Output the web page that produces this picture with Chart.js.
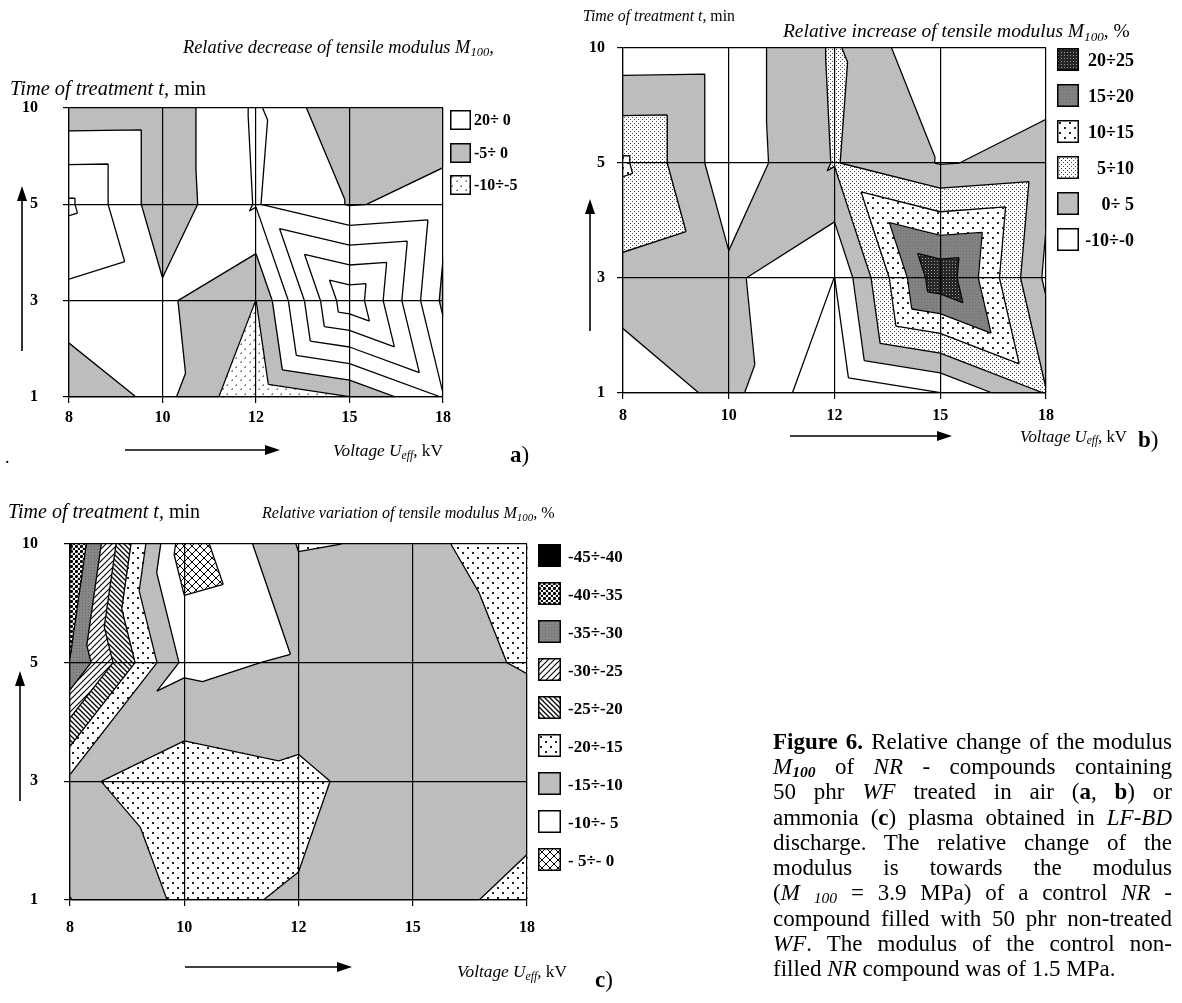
<!DOCTYPE html>
<html><head><meta charset="utf-8"><title>Figure 6</title>
<script src="https://cdn.jsdelivr.net/npm/chart.js@4.4.1/dist/chart.umd.min.js"></script>
<style>
html,body{margin:0;padding:0;background:#fff;}
body{width:1182px;height:1003px;position:relative;overflow:hidden;font-family:"Liberation Serif","Times New Roman",serif;color:#000;}
.t{position:absolute;white-space:nowrap;line-height:1;transform:translateY(-50%);}
sub{font-size:0.68em;vertical-align:-0.25em;line-height:0;}
.lg{position:absolute;font-weight:bold;white-space:pre;line-height:1;transform:translateY(-50%);}
.sw{position:absolute;}
.cap{position:absolute;left:773px;width:399px;font-size:23px;line-height:1;transform:translateY(-50%);text-align:justify;text-align-last:justify;white-space:nowrap;}
.cap.last{text-align:left;text-align-last:left;}
.cv{position:absolute;}
svg.arr{position:absolute;left:0;top:0;}
</style></head>
<body>
<div class="cv" style="left:0px;top:95px;"><canvas id="chartA" width="455" height="335"></canvas></div>
<div class="cv" style="left:570px;top:35px;"><canvas id="chartB" width="490" height="390"></canvas></div>
<div class="cv" style="left:0px;top:530px;"><canvas id="chartC" width="542" height="410"></canvas></div>

<svg class="arr" width="1182" height="1003">
<g stroke="#000" stroke-width="1.6" fill="#000">
<line x1="22" y1="351" x2="22" y2="196"/><polygon points="22,186 17,201 27,201" stroke="none"/>
<line x1="125" y1="450" x2="268" y2="450"/><polygon points="280,450 265,445 265,455" stroke="none"/>
<line x1="590" y1="331" x2="590" y2="210"/><polygon points="590,199 585,214 595,214" stroke="none"/>
<line x1="790" y1="436" x2="940" y2="436"/><polygon points="952,436 937,431 937,441" stroke="none"/>
<line x1="20" y1="801" x2="20" y2="682"/><polygon points="20,671 15,686 25,686" stroke="none"/>
<line x1="185" y1="967" x2="340" y2="967"/><polygon points="352,967 337,962 337,972" stroke="none"/>
</g></svg>

<!-- panel a texts -->
<div class="t fit" data-w="311" style="left:183px;top:47px;font-size:18px;font-style:italic">Relative decrease of tensile modulus M<sub>100</sub>,</div>
<div class="t fit" data-w="196" style="left:10px;top:88px;font-size:20px"><i>Time of treatment t,</i> min</div>
<div class="t fit" data-w="110" style="left:333px;top:451px;font-size:15px"><i>Voltage U<sub>eff</sub>,</i> kV</div>
<div class="t" style="left:510px;top:454px;font-size:23px"><b>a</b>)</div>
<div class="t" style="left:5px;top:457px;font-size:18px">.</div>

<!-- panel b texts -->
<div class="t fit" data-w="152" style="left:583px;top:16px;font-size:16px"><i>Time of treatment t,</i> min</div>
<div class="t fit" data-w="347" style="left:783px;top:31px;font-size:19px"><i>Relative increase of tensile modulus M<sub>100</sub>,</i> %</div>
<div class="t fit" data-w="107" style="left:1020px;top:437px;font-size:15px"><i>Voltage U<sub>eff</sub>,</i> kV</div>
<div class="t" style="left:1138px;top:439px;font-size:23px"><b>b</b>)</div>

<!-- panel c texts -->
<div class="t fit" data-w="192" style="left:8px;top:511px;font-size:19px"><i>Time of treatment t,</i> min</div>
<div class="t fit" data-w="293" style="left:262px;top:513px;font-size:17px"><i>Relative variation of tensile modulus M<sub>100</sub>,</i> %</div>
<div class="t fit" data-w="110" style="left:457px;top:972px;font-size:15px"><i>Voltage U<sub>eff</sub>,</i> kV</div>
<div class="t" style="left:595px;top:979px;font-size:23px"><b>c</b>)</div>

<!-- caption -->
<div class="cap" style="top:741px"><b>Figure 6.</b> Relative change of the modulus</div>
<div class="cap" style="top:766px"><i>M<sub><b>100</b></sub></i> of <i>NR</i> - compounds containing</div>
<div class="cap" style="top:791px">50 phr <i>WF</i> treated in air (<b>a</b>, <b>b</b>) or</div>
<div class="cap" style="top:817px">ammonia (<b>c</b>) plasma obtained in <i>LF-BD</i></div>
<div class="cap" style="top:842px">discharge. The relative change of the</div>
<div class="cap" style="top:867px">modulus is towards the modulus</div>
<div class="cap" style="top:892px">(<i>M <sub>100</sub></i> = 3.9 MPa) of a control <i>NR</i> -</div>
<div class="cap" style="top:918px">compound filled with 50 phr non-treated</div>
<div class="cap" style="top:943px"><i>WF</i>. The modulus of the control non-</div>
<div class="cap last" style="top:968px">filled <i>NR</i> compound was of 1.5 MPa.</div>

<script>
// ================= DATA =================
const voltageTicks = ['8', '10', '12', '15', '18'];   // U_eff, kV (equally spaced categories)
const timeTicks = ['1', '3', '5', '10'];              // t, min (equally spaced categories)

// Air plasma: relative change of M100, %, one array per treatment time (x = 8..18 kV)
// (panels a and b show the same measured surface with different band styles)
const airT1  = [-4.2, 1.65, -9.4, -5.1, 5.25];
const airT3  = [3.3, 1.0, -5.05, 24.0, -1.0];
const airT5  = [10.9, -3.2, 5.3, -0.3, 1.35];
const airT10 = [-3.4, -3.2, 5.75, -4.9, -2.2];

// Ammonia plasma: relative variation of M100, %
const nh3T1  = [-9.9, -15.9, -14.6, -12.5, -16.8];
const nh3T3  = [-13.8, -18.2, -16.3, -11.6, -12.1];
const nh3T5  = [-34.8, -8.8, -10.6, -13.6, -15.3];
const nh3T10 = [-40.5, -2.1, -15.3, -14.5, -16.0];

// contour levels and band styles
const levelsA = [-10, -5, 0, 5, 10, 15, 20, 25];
const bandsA = ['aSpeck', 'gray', 'white', 'white', 'white', 'white', 'white'];
const legendTextA = ['20÷ 0', '-5÷ 0', '-10÷-5'];
const legendFillA = ['white', 'gray', 'aSpeck'];

const levelsB = [-10, -5, 0, 5, 10, 15, 20, 25];
const bandsB = ['white', 'white', 'gray', 'dense', 'sparse', 'dark', 'darkest'];
const legendTextB = ['20÷25', '15÷20', '10÷15', '5÷10', '0÷ 5', '-10÷-0'];
const legendFillB = ['darkest', 'dark', 'sparse', 'dense', 'gray', 'white'];

const levelsC = [-45, -40, -35, -30, -25, -20, -15, -10, -5, 0];
const bandsC = ['black', 'bigDots', 'darkGray', 'hatchFwd', 'hatchBack', 'sparse', 'gray', 'white', 'cross'];
const legendTextC = ['-45÷-40', '-40÷-35', '-35÷-30', '-30÷-25', '-25÷-20', '-20÷-15', '-15÷-10', '-10÷- 5', '- 5÷- 0'];
const legendFillC = ['black', 'bigDots', 'darkGray', 'hatchFwd', 'hatchBack', 'sparse', 'gray', 'white', 'cross'];

// ================= PATTERNS =================
function tile(n, bg, draw) {
  const c = document.createElement('canvas'); c.width = c.height = n;
  const g = c.getContext('2d'); g.fillStyle = bg; g.fillRect(0, 0, n, n);
  if (draw) draw(g, n);
  return c;
}
function diag(g, n, fwd, w) {
  g.strokeStyle = '#000'; g.lineWidth = w; g.beginPath();
  for (let k = -1; k <= 1; k++) {
    if (fwd) { g.moveTo(k * n - 1, n + 1); g.lineTo(k * n + n + 1, -1); }
    else { g.moveTo(k * n - 1, -1); g.lineTo(k * n + n + 1, n + 1); }
  }
  g.stroke();
}
const tiles = {
  white: tile(2, '#ffffff'),
  gray: tile(4, '#bfbfbf', g => { g.fillStyle = '#b1b1b1'; g.fillRect(0, 0, 1, 1); g.fillRect(2, 2, 1, 1); }),
  aSpeck: tile(9, '#ffffff', g => { g.fillStyle = '#8a8a8a'; g.fillRect(1, 2, 2, 1); g.fillRect(2, 1, 1, 1); g.fillRect(6, 6, 2, 1); g.fillRect(7, 5, 1, 1); }),
  dense: tile(4, '#ffffff', g => { g.fillStyle = '#444'; g.fillRect(0, 0, 1, 1); g.fillRect(2, 2, 1, 1); }),
  sparse: tile(10, '#ffffff', g => { g.fillStyle = '#222'; g.fillRect(2, 2, 2, 2); g.fillRect(7, 7, 2, 2); }),
  dark: tile(3, '#828282', g => { g.fillStyle = '#6e6e6e'; g.fillRect(0, 0, 1, 1); }),
  darkest: tile(3, '#262626', g => { g.fillStyle = '#9a9a9a'; g.fillRect(1, 1, 1, 1); }),
  black: tile(2, '#000000'),
  bigDots: tile(5, '#ffffff', g => { g.fillStyle = '#000'; g.beginPath(); g.arc(1.5, 1.5, 1.6, 0, 7); g.fill(); g.beginPath(); g.arc(4, 4, 1.3, 0, 7); g.fill(); }),
  darkGray: tile(3, '#868686', g => { g.fillStyle = '#6a6a6a'; g.fillRect(1, 1, 1, 1); }),
  hatchFwd: tile(6, '#ffffff', (g, n) => diag(g, n, true, 1.1)),
  hatchBack: tile(5, '#ffffff', (g, n) => diag(g, n, false, 1.3)),
  cross: tile(8, '#ffffff', (g, n) => { diag(g, n, true, 1); diag(g, n, false, 1); })
};
const patternCtx = document.createElement('canvas').getContext('2d');
const patterns = {};
for (const k in tiles) patterns[k] = patternCtx.createPattern(tiles[k], 'repeat');

// ================= CONTOUR GEOMETRY =================
function surface(rows) {               // rows: bottom (t=1) -> top (t=10)
  const tris = [];
  for (let j = 0; j < rows.length - 1; j++) {
    for (let i = 0; i < rows[j].length - 1; i++) {
      const p = (ii, jj) => ({ x: ii, y: jj, z: rows[jj][ii] });
      const bl = p(i, j), br = p(i + 1, j), tl = p(i, j + 1), tr = p(i + 1, j + 1);
      if (bl.z + tr.z >= tl.z + br.z) tris.push([bl, br, tr], [bl, tr, tl]);
      else tris.push([bl, br, tl], [br, tr, tl]);
    }
  }
  return tris;
}
function clipPoly(poly, f) {
  const out = [];
  for (let k = 0; k < poly.length; k++) {
    const a = poly[k], b = poly[(k + 1) % poly.length];
    const fa = f(a), fb = f(b);
    if (fa >= 0) out.push(a);
    if ((fa >= 0) !== (fb >= 0)) {
      const s = fa / (fa - fb);
      out.push({ x: a.x + s * (b.x - a.x), y: a.y + s * (b.y - a.y), z: a.z + s * (b.z - a.z) });
    }
  }
  return out;
}

const polyPlugin = {
  id: 'polyFill',
  beforeDatasetDraw(chart, args) {
    const ds = chart.data.datasets[args.index];
    if (!ds.polyFill) return;
    const pts = args.meta.data, ctx = chart.ctx;
    ctx.save();
    ctx.beginPath();
    pts.forEach((p, k) => k ? ctx.lineTo(p.x, p.y) : ctx.moveTo(p.x, p.y));
    ctx.closePath();
    ctx.fillStyle = ds.polyFill; ctx.fill();
    ctx.strokeStyle = ds.polyFill; ctx.lineWidth = 1; ctx.lineJoin = 'round'; ctx.stroke();
    ctx.restore();
  }
};

function makeChart(id, rows, levels, bands, geo) {
  const tris = surface(rows);
  const datasets = [];
  for (let b = 0; b < bands.length; b++) {
    const lo = levels[b], hi = levels[b + 1];
    for (const t of tris) {
      let poly = clipPoly(t, q => q.z - lo);
      if (poly.length < 3) continue;
      poly = clipPoly(poly, q => hi - q.z);
      if (poly.length < 3) continue;
      datasets.push({ data: poly.map(q => ({ x: q.x, y: q.y })), showLine: false, pointRadius: 0,
        pointHoverRadius: 0, polyFill: patterns[bands[b]], order: 2 });
    }
  }
  const seg = [];
  for (const L of levels) {
    for (const t of tris) {
      const cr = [];
      for (let k = 0; k < 3; k++) {
        const a = t[k], c = t[(k + 1) % 3];
        const da = a.z - L, dc = c.z - L;
        if ((da < 0) !== (dc < 0)) {
          const s = da / (da - dc);
          cr.push({ x: a.x + s * (c.x - a.x), y: a.y + s * (c.y - a.y) });
        }
      }
      if (cr.length === 2) seg.push(cr[0], cr[1], { x: cr[1].x, y: null });
    }
  }
  datasets.push({ data: seg, borderColor: '#000', borderWidth: 1.3, pointRadius: 0, pointHoverRadius: 0,
    spanGaps: false, tension: 0, fill: false, order: 0 });

  const font = { family: 'Liberation Serif', size: geo.fs, weight: 'bold' };
  return new Chart(document.getElementById(id), {
    type: 'line',
    data: { datasets },
    options: {
      responsive: false, animation: false, events: [],
      layout: { padding: { left: 0, top: geo.top, right: geo.right, bottom: 0 } },
      plugins: { legend: { display: false }, tooltip: { enabled: false } },
      scales: {
        x: {
          type: 'linear', min: 0, max: voltageTicks.length - 1,
          afterBuildTicks: s => { s.ticks = voltageTicks.map((_, v) => ({ value: v })); },
          afterFit: s => { s.height = geo.xH; s.paddingLeft = 0; s.paddingRight = 0; },
          ticks: { callback: (v, i) => voltageTicks[i], padding: geo.xPad, color: '#000', font, maxRotation: 0, autoSkip: false },
          grid: { color: '#000', lineWidth: 1.2, tickLength: 6, z: 1 },
          border: { color: '#000', width: 1.2, z: 1 }
        },
        y: {
          type: 'linear', min: 0, max: timeTicks.length - 1,
          afterBuildTicks: s => { s.ticks = timeTicks.map((_, v) => ({ value: v })); },
          afterFit: s => { s.width = geo.yW; s.paddingTop = 0; s.paddingBottom = 0; },
          ticks: { callback: (v, i) => timeTicks[i], padding: geo.yPad, color: '#000', font, autoSkip: false },
          grid: { color: '#000', lineWidth: 1.2, tickLength: 6, z: 1 },
          border: { color: '#000', width: 1.2, z: 1 }
        }
      }
    },
    plugins: [polyPlugin]
  });
}

const airRows = [airT1, airT3, airT5, airT10];
const nh3Rows = [nh3T1, nh3T3, nh3T5, nh3T10];
makeChart('chartA', airRows, levelsA, bandsA, { top: 13, right: 12, yW: 69, xH: 33, yPad: 25, xPad: 5, fs: 16 });
makeChart('chartB', airRows, levelsB, bandsB, { top: 13, right: 14, yW: 53, xH: 32, yPad: 12, xPad: 7, fs: 16 });
makeChart('chartC', nh3Rows, levelsC, bandsC, { top: 14, right: 15, yW: 70, xH: 40, yPad: 26, xPad: 12, fs: 16 });

// ================= LEGENDS =================
function legend(texts, fills, o) {
  texts.forEach((txt, k) => {
    const y = o.y0 + k * o.dy;
    const cv = document.createElement('canvas');
    cv.width = o.sw; cv.height = o.sh; cv.className = 'sw';
    cv.style.left = o.x + 'px'; cv.style.top = y + 'px';
    const g = cv.getContext('2d');
    g.fillStyle = g.createPattern(tiles[fills[k]], 'repeat'); g.fillRect(0, 0, o.sw, o.sh);
    g.strokeStyle = '#000'; g.lineWidth = 1.5; g.strokeRect(0.75, 0.75, o.sw - 1.5, o.sh - 1.5);
    document.body.appendChild(cv);
    const d = document.createElement('div');
    d.className = 'lg'; d.textContent = txt; d.style.fontSize = o.fs + 'px';
    d.style.top = (y + o.sh / 2) + 'px';
    if (o.right) { d.style.left = (o.right - 80) + 'px'; d.style.width = '80px'; d.style.textAlign = 'right'; }
    else d.style.left = o.tx + 'px';
    document.body.appendChild(d);
  });
}
legend(legendTextA, legendFillA, { x: 450, y0: 110, dy: 32.5, sw: 21, sh: 20, tx: 474, fs: 16 });
legend(legendTextB, legendFillB, { x: 1057, y0: 48, dy: 36, sw: 22, sh: 23, right: 1134, fs: 18 });
legend(legendTextC, legendFillC, { x: 538, y0: 544, dy: 38, sw: 23, sh: 23, tx: 568, fs: 17 });

// fit text widths
document.querySelectorAll('.fit').forEach(el => {
  const w = +el.dataset.w, cur = el.getBoundingClientRect().width;
  const fs = parseFloat(el.style.fontSize);
  if (cur > 0) el.style.fontSize = (fs * w / cur).toFixed(2) + 'px';
});
</script>
</body></html>
